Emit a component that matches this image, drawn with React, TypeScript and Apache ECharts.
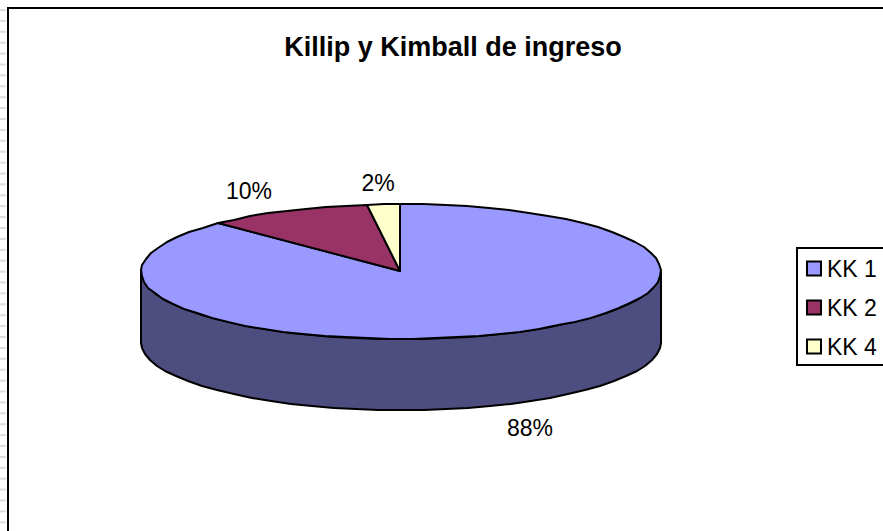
import React, { useEffect, useRef } from "react";
import * as echarts from "echarts";

const titleText = "Killip y Kimball de ingreso";
const categories = ["KK 1", "KK 2", "KK 4"];
const shares = [87.6, 10.3, 2.1];
const topColors = ["#9999FF", "#993366", "#FFFFCC"];
const sideColor = "#4D4D80";
const labelAnchors = [
  [530, 428],
  [249, 191],
  [378, 183],
];

const FONT = '"Liberation Sans", Arial, sans-serif';
const CX = 401;
const CY = 271.5;
const RX = 260;
const RY = 67.5;
const DEPTH = 71;
const APEX_X = 400;
const total = shares.reduce((a, b) => a + b, 0);

function rim(deg: number, dy = 0): number[] {
  const t = (deg * Math.PI) / 180;
  return [Math.round(CX + RX * Math.sin(t)), Math.round(CY - RY * Math.cos(t) + dy)];
}

function arcPoints(from: number, to: number, dy = 0): number[][] {
  const pts: number[][] = [];
  const n = Math.max(2, Math.ceil(Math.abs(to - from) / 5));
  for (let i = 0; i <= n; i++) pts.push(rim(from + ((to - from) * i) / n, dy));
  return pts;
}

function makeRenderItem(index: number) {
  const start = (shares.slice(0, index).reduce((a, b) => a + b, 0) / total) * 360;
  return (_params: any, api: any) => {
    const value = api.value(0) as number;
    const end = start + (value / total) * 360;
    const children: any[] = [];
    const sideFrom = Math.max(start, 90);
    const sideTo = Math.min(end, 270);
    if (sideTo > sideFrom) {
      const upper = arcPoints(sideFrom, sideTo);
      const lower = arcPoints(sideTo, sideFrom, DEPTH);
      children.push({
        type: "polygon",
        shape: { points: [...upper, ...lower] },
        style: { fill: sideColor, stroke: "#000", lineWidth: 2, lineJoin: "round" },
      });
    }
    const a = arcPoints(start, end);
    if (index === 0) a[0] = [APEX_X, a[0][1]];
    if (index === categories.length - 1) a[a.length - 1] = [APEX_X, a[a.length - 1][1]];
    children.push({
      type: "polygon",
      shape: { points: [[APEX_X, 271], ...a] },
      style: { fill: topColors[index], stroke: "#000", lineWidth: 2, lineJoin: "round" },
    });
    children.push({
      type: "text",
      style: {
        text: `${Math.round(value)}%`,
        x: labelAnchors[index][0],
        y: labelAnchors[index][1],
        align: "center",
        verticalAlign: "middle",
        fill: "#000",
        font: `23px ${FONT}`,
      },
    });
    return { type: "group", children };
  };
}

const stripeRows = Array.from({ length: 48 }, (_, i) => 9 + i * 10.9);

export default function App() {
  const ref = useRef<HTMLDivElement>(null);
  useEffect(() => {
    document.body.style.margin = "0";
    const chart = echarts.init(ref.current!, undefined, { renderer: "svg" });
    chart.setOption({
      animation: false,
      backgroundColor: "#fff",
      title: {
        text: titleText,
        left: 453,
        top: 32,
        textAlign: "center",
        padding: 0,
        textStyle: { fontFamily: FONT, fontSize: 27, fontWeight: "bold", color: "#000", lineHeight: 30 },
      },
      legend: {
        orient: "vertical",
        left: 797,
        top: 248,
        padding: [8, 14, 6, 9],
        itemWidth: 14,
        itemHeight: 14,
        itemGap: 14,
        borderColor: "#000",
        borderWidth: 2,
        borderRadius: 0,
        selectedMode: false,
        textStyle: { fontFamily: FONT, fontSize: 23, color: "#000", lineHeight: 25, padding: [0, 0, 0, 1] },
        data: categories.map((name, i) => ({
          name,
          icon: "rect",
          itemStyle: { color: topColors[i], borderColor: "#000", borderWidth: 2 },
        })),
      },
      graphic: [
        {
          type: "group",
          silent: true,
          z: -1,
          children: [
            ...stripeRows.map((y) => ({
              type: "rect",
              shape: { x: 0, y, width: 6, height: 2 },
              style: { fill: "#dcdcdc" },
            })),
            {
              type: "polyline",
              shape: { points: [[8, 531], [8, 8], [883, 8]] },
              style: { stroke: "#000", lineWidth: 2, fill: "none" },
            },
          ],
        },
      ],
      series: categories.map((name, i) => ({
        type: "custom",
        name,
        coordinateSystem: "none",
        silent: true,
        itemStyle: { color: topColors[i] },
        data: [[shares[i]]],
        renderItem: makeRenderItem(i),
      })),
    });
    return () => chart.dispose();
  }, []);
  return <div ref={ref} style={{ width: 883, height: 531 }} />;
}
